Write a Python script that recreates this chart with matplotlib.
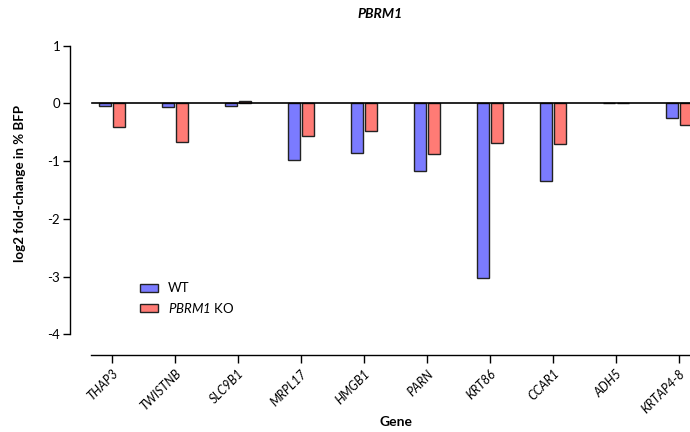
import numpy as np
import matplotlib
matplotlib.use("Agg")
import matplotlib.pyplot as plt
from matplotlib.patches import Patch

plt.rcParams['font.family'] = ['Lato', 'DejaVu Sans']
plt.rcParams['mathtext.fontset'] = 'custom'
plt.rcParams['mathtext.rm'] = 'Lato:italic'
plt.rcParams['mathtext.it'] = 'Lato:italic'

genes = ["THAP3", "TWISTNB", "SLC9B1", "MRPL17", "HMGB1",
         "PARN", "KRT86", "CCAR1", "ADH5", "KRTAP4-8"]
wt = [-0.04, -0.06, -0.04, -0.98, -0.86, -1.17, -3.03, -1.34, 0.01, -0.26]
ko = [-0.41, -0.67, 0.05, -0.57, -0.48, -0.88, -0.69, -0.70, 0.005, -0.38]

blue = "#7B7BFF"
red = "#FF7B75"
edge = "#222222"
ko_label = r"$\mathrm{PBRM1}$ KO"

fig = plt.figure(figsize=(6.9, 4.32), dpi=100)
ax = fig.add_axes([0.1014, 0.178, 0.8986, 0.723])

x = np.arange(len(genes))
w = 0.19
off = 0.11
ax.bar(x - off, wt, width=w, color=blue, edgecolor=edge, linewidth=1.0, zorder=3, label="WT")
ax.bar(x + off, ko, width=w, color=red, edgecolor=edge, linewidth=1.0, zorder=3, label=ko_label)

xmin, xmax = -0.667, 9.175
ax.set_xlim(xmin, xmax)
ax.set_ylim(-4.36, 1.05)
ax.axhline(0, xmin=(-0.32 - xmin) / (xmax - xmin), xmax=1, color="black",
           linewidth=1.2, zorder=4)

for s in ("top", "right"):
    ax.spines[s].set_visible(False)
ax.spines["left"].set_bounds(-4, 1)
ax.spines["bottom"].set_bounds(-0.33, xmax)
ax.spines["left"].set_linewidth(1.0)
ax.spines["bottom"].set_linewidth(1.0)

ax.set_yticks([1, 0, -1, -2, -3, -4])
ax.set_yticklabels(["1", "0", "-1", "-2", "-3", "-4"])
ax.set_xticks(x)
ax.set_xticklabels(genes, rotation=45, ha="right", rotation_mode="anchor",
                   fontstyle="italic")
ax.tick_params(axis="y", direction="out", length=5, width=1.0, labelsize=9.5, pad=2)
ax.tick_params(axis="x", direction="out", length=6, width=1.0, labelsize=9, pad=3)

ax.set_ylabel("log2 fold-change in % BFP", fontsize=9.6, fontweight="bold",
              va="center")
ax.yaxis.set_label_coords(-0.081, 0.548)
ax.set_xlabel("Gene", fontsize=10, fontweight="bold", va="center")
ax.xaxis.set_label_coords(0.526, -0.215)
fig.text(0.551, 0.968, "PBRM1", fontsize=10, fontweight="bold", fontstyle="italic",
         ha="center", va="center")

handles = [Patch(facecolor=blue, edgecolor=edge, linewidth=1.0, label="WT"),
           Patch(facecolor=red, edgecolor=edge, linewidth=1.0, label=ko_label)]
ax.legend(handles=handles, loc="upper left", bbox_to_anchor=(0.104, 0.25),
          frameon=False, fontsize=9.5, handlelength=1.36, handleheight=0.55,
          labelspacing=0.5, handletextpad=0.75, borderaxespad=0)

fig.savefig("out.png", dpi=100)
